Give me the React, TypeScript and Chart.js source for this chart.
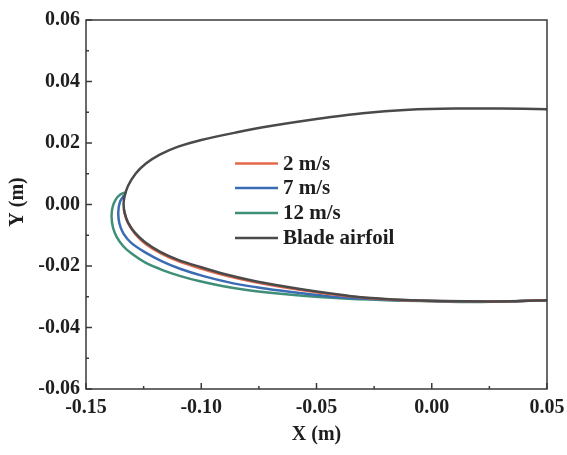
import React, { useEffect, useRef } from "react";
import { Chart, registerables } from "chart.js";
Chart.register(...registerables);

const seriesNames = ["2 m/s", "7 m/s", "12 m/s", "Blade airfoil"];
const seriesColors = ["#e4694c", "#3a6cb4", "#3f8e78", "#4a4a4a"];

const xTickValues = [-0.15, -0.1, -0.05, 0.0, 0.05];
const xTickLabels = ["-0.15", "-0.10", "-0.05", "0.00", "0.05"];
const yTickValues = [-0.06, -0.04, -0.02, 0.0, 0.02, 0.04, 0.06];
const yTickLabels = ["-0.06", "-0.04", "-0.02", "0.00", "0.02", "0.04", "0.06"];

// 2 m/s
const red2X = [-0.1336, -0.133, -0.1315, -0.1285, -0.124, -0.1175, -0.1095, -0.0995, -0.0895, -0.0775, -0.065, -0.05, -0.035, -0.02, -0.005, 0.015, 0.035, 0.05];
const red2Y = [-0.0015, -0.0035, -0.0064, -0.0097, -0.0129, -0.0159, -0.0186, -0.021, -0.0231, -0.0251, -0.0268, -0.0285, -0.0299, -0.0308, -0.0313, -0.0315, -0.0315, -0.0311];

// 7 m/s
const blue7X = [-0.1335, -0.1352, -0.136, -0.1355, -0.1338, -0.1305, -0.1245, -0.117, -0.1092, -0.099, -0.0875, -0.076, -0.0658, -0.0572, -0.045, -0.03, -0.015, 0.005, 0.025, 0.05];
const blue7Y = [0.003, 0.001, -0.0025, -0.0062, -0.0094, -0.0124, -0.0155, -0.0185, -0.0209, -0.0233, -0.0254, -0.0269, -0.028, -0.0288, -0.0298, -0.0306, -0.0311, -0.0315, -0.0316, -0.0311];

// 12 m/s
const green12X = [-0.1325, -0.135, -0.1372, -0.1385, -0.1389, -0.1383, -0.1367, -0.134, -0.1305, -0.124, -0.1165, -0.109, -0.101, -0.091, -0.0803, -0.069, -0.0572, -0.04, -0.02, -0.0037, 0.02, 0.05];
const green12Y = [0.004, 0.0033, 0.0015, -0.001, -0.004, -0.0075, -0.0105, -0.0134, -0.0158, -0.019, -0.0214, -0.0233, -0.0249, -0.0265, -0.0278, -0.0288, -0.0296, -0.0305, -0.0311, -0.0314, -0.0317, -0.0311];

// Blade airfoil (upper surface from trailing side to leading edge, then lower surface)
const bladeX = [0.05, 0.03, 0.01, -0.01, -0.03, -0.05, -0.07, -0.085, -0.1, -0.11, -0.118, -0.124, -0.1285, -0.1318, -0.1333, -0.1337, -0.1332, -0.1318, -0.129, -0.1245, -0.118, -0.11, -0.1, -0.09, -0.078, -0.065, -0.05, -0.035, -0.02, -0.005, 0.015, 0.035, 0.05];
const bladeY = [0.031, 0.0312, 0.0312, 0.0308, 0.0297, 0.0278, 0.0255, 0.0234, 0.021, 0.0188, 0.0162, 0.0133, 0.01, 0.006, 0.0025, 0.0, -0.0028, -0.0058, -0.009, -0.0122, -0.0153, -0.018, -0.0204, -0.0226, -0.0247, -0.0265, -0.0283, -0.0298, -0.0307, -0.0312, -0.0315, -0.0315, -0.0311];

const FONT = '"Liberation Serif", "Times New Roman", serif';

function pts(xs: number[], ys: number[]) {
  return xs.map((x, i) => ({ x, y: ys[i] }));
}

const framePlugin = {
  id: "frame",
  afterDatasetsDraw(chart: any) {
    const { ctx, chartArea: a, scales } = chart;
    const xs = scales.x;
    const ys = scales.y;
    ctx.save();
    ctx.strokeStyle = "#3a3a3a";
    ctx.lineWidth = 1.5;
    ctx.strokeRect(a.left, a.top, a.right - a.left, a.bottom - a.top);
    const seg = (x1: number, y1: number, x2: number, y2: number) => {
      ctx.beginPath();
      ctx.moveTo(x1, y1);
      ctx.lineTo(x2, y2);
      ctx.stroke();
    };
    xTickValues.forEach((v, i) => {
      const px = xs.getPixelForValue(v);
      seg(px, a.bottom, px, a.bottom - 6);
      if (i < xTickValues.length - 1) {
        const m = xs.getPixelForValue((v + xTickValues[i + 1]) / 2);
        seg(m, a.bottom, m, a.bottom - 3);
      }
    });
    yTickValues.forEach((v, i) => {
      const py = ys.getPixelForValue(v);
      seg(a.left, py, a.left + 6, py);
      if (i < yTickValues.length - 1) {
        const m = ys.getPixelForValue((v + yTickValues[i + 1]) / 2);
        seg(a.left, m, a.left + 3, m);
      }
    });

    // legend inside plot
    ctx.font = "bold 21px " + FONT;
    ctx.textBaseline = "middle";
    ctx.textAlign = "left";
    const rowY = [143.5, 168, 193, 218];
    seriesNames.forEach((name, i) => {
      const y = a.top + rowY[i];
      ctx.strokeStyle = seriesColors[i];
      ctx.lineWidth = 2.5;
      seg(a.left + 149, y, a.left + 192, y);
      ctx.fillStyle = "#1e1e1e";
      ctx.fillText(name, a.left + 197, y + 1);
    });

    // axis titles
    ctx.font = "bold 20px " + FONT;
    ctx.fillStyle = "#1e1e1e";
    ctx.textAlign = "center";
    ctx.fillText("X (m)", (a.left + a.right) / 2, 434.5);
    ctx.translate(18, 202);
    ctx.rotate(-Math.PI / 2);
    ctx.fillText("Y (m)", 0, 0);
    ctx.restore();
  },
};

export default function App() {
  const ref = useRef<HTMLCanvasElement | null>(null);
  useEffect(() => {
    document.body.style.margin = "0";
    const canvas = ref.current;
    if (!canvas) return;
    const mk = (i: number, data: any[], order: number) => ({
      label: seriesNames[i],
      data,
      borderColor: seriesColors[i],
      backgroundColor: seriesColors[i],
      borderWidth: 2.5,
      pointRadius: 0,
      showLine: true,
      tension: 0.3,
      fill: false,
      order,
    });
    const chart = new Chart(canvas, {
      type: "scatter",
      data: {
        datasets: [
          mk(0, pts(red2X, red2Y), 1),
          mk(1, pts(blue7X, blue7Y), 2),
          mk(2, pts(green12X, green12Y), 3),
          mk(3, pts(bladeX, bladeY), 0),
        ],
      },
      options: {
        animation: false,
        responsive: false,
        devicePixelRatio: 1,
        layout: { padding: { top: 20, right: 20, left: 0, bottom: 0 } },
        plugins: { legend: { display: false }, tooltip: { enabled: false } },
        scales: {
          x: {
            type: "linear",
            min: -0.15,
            max: 0.05,
            grid: { display: false, drawTicks: false },
            border: { display: false },
            afterBuildTicks: (s: any) => {
              s.ticks = xTickValues.map((v) => ({ value: v }));
            },
            afterFit: (s: any) => {
              s.height = 66;
              s.paddingLeft = 0;
              s.paddingRight = 0;
            },
            ticks: {
              padding: 7,
              color: "#1e1e1e",
              font: { family: FONT, size: 20, weight: "bold" },
              maxRotation: 0,
              callback: (_v: any, i: number) => xTickLabels[i],
            },
          },
          y: {
            type: "linear",
            min: -0.06,
            max: 0.06,
            grid: { display: false, drawTicks: false },
            border: { display: false },
            afterBuildTicks: (s: any) => {
              s.ticks = yTickValues.map((v) => ({ value: v }));
            },
            afterFit: (s: any) => {
              s.width = 86;
              s.paddingTop = 0;
              s.paddingBottom = 0;
            },
            ticks: {
              padding: 6,
              color: "#1e1e1e",
              font: { family: FONT, size: 20, weight: "bold" },
              callback: (_v: any, i: number) => yTickLabels[i],
            },
          },
        },
      },
      plugins: [framePlugin],
    } as any);
    return () => chart.destroy();
  }, []);
  return (
    <div style={{ width: 567, height: 455 }}>
      <canvas ref={ref} width={567} height={455} style={{ display: "block" }} />
    </div>
  );
}
